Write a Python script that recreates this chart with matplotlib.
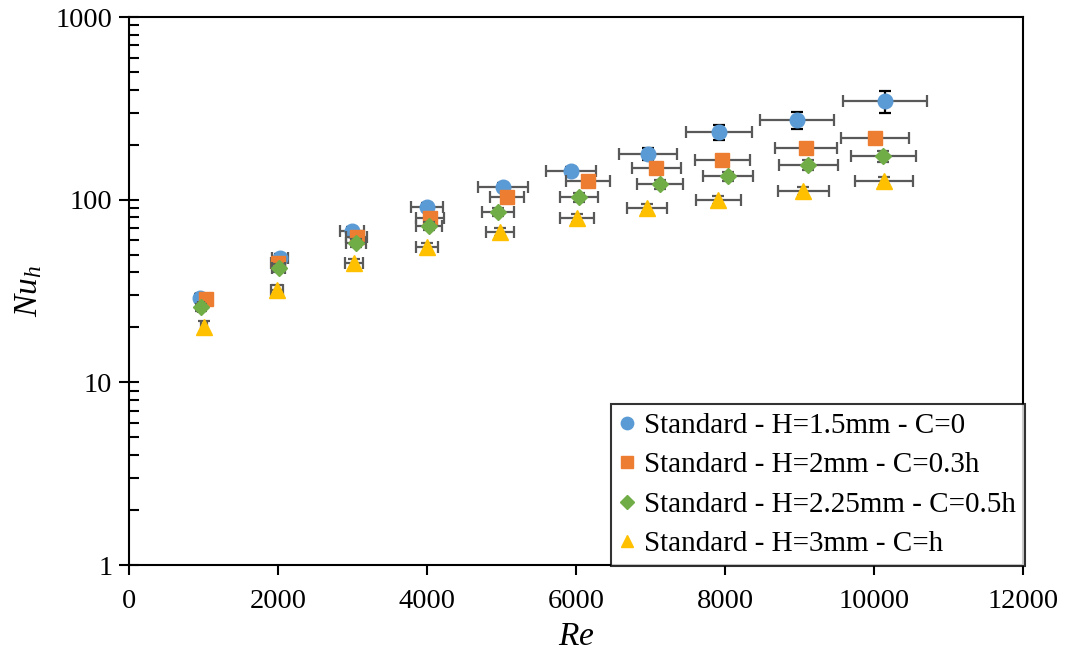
import numpy as np
import matplotlib.pyplot as plt
from matplotlib.ticker import LogLocator, NullFormatter, FixedLocator

plt.rcParams['font.family'] = ['Liberation Serif', 'DejaVu Serif']
plt.rcParams['mathtext.fontset'] = 'custom'
plt.rcParams['mathtext.it'] = 'Liberation Serif:italic'
plt.rcParams['mathtext.rm'] = 'Liberation Serif'

labels = ['Standard - H=1.5mm - C=0',
          'Standard - H=2mm - C=0.3h',
          'Standard - H=2.25mm - C=0.5h',
          'Standard - H=3mm - C=h']

# H=1.5mm, C=0
re_a = [953, 2027, 2993, 4000, 5020, 5933, 6967, 7920, 8967, 10148]
nu_a = [28.9, 47.9, 67.3, 91, 117, 143.5, 178, 234, 273, 346]
xe_a = [55, 110, 165, 215, 330, 330, 390, 440, 500, 564]
ye_a = [1.5, 2.5, 3.5, 4.5, 6, 8, 14, 22, 29, 47]

# H=2mm, C=0.3h
re_b = [1034, 2000, 3060, 4040, 5074, 6161, 7074, 7960, 9087, 10013]
nu_b = [28.5, 45, 62.4, 79.3, 103, 126.5, 149, 164.7, 191.6, 217]
xe_b = [48, 92, 141, 186, 233, 289, 329, 369, 417, 463]
ye_b = [1.2, 2, 3, 3.5, 4.5, 5.5, 6.5, 7, 8, 9]

# H=2.25mm, C=0.5h
re_c = [966, 2013, 3047, 4027, 4953, 6040, 7128, 8040, 9114, 10121]
nu_c = [25.8, 42.2, 57.9, 71.7, 85.5, 103, 121.7, 134.6, 154.6, 173.3]
xe_c = [42, 87, 131, 173, 213, 260, 307, 342, 396, 436]
ye_c = [1.2, 2, 3, 3.5, 4.5, 5.5, 7, 8, 10, 12]

# H=3mm, C=h
re_d = [1007, 1987, 3020, 4000, 4980, 6013, 6953, 7906, 9047, 10134]
nu_d = [20.2, 32.0, 45, 55, 66.5, 79.3, 90, 99.5, 111.5, 126.4]
xe_d = [38, 76, 115, 152, 189, 228, 264, 302, 342, 383]
ye_d = [1.4, 2, 2.5, 3, 3.5, 4, 4.5, 5, 5.5, 6.5]

fig = plt.figure(figsize=(10.65, 6.57), dpi=100)
ax = fig.add_axes([0.1211, 0.14, 0.8395, 0.8341])

series = [
    (re_a, nu_a, xe_a, ye_a, '#5B9BD5', 'o', 10.5, 'black'),
    (re_b, nu_b, xe_b, ye_b, '#ED7D31', 's', 10, '#595959'),
    (re_c, nu_c, xe_c, ye_c, '#70AD47', 'D', 8.5, '#595959'),
    (re_d, nu_d, xe_d, ye_d, '#FFC000', '^', 11, '#595959'),
]

handles = []
for i, (x, y, xe, ye, col, mk, ms, yecol) in enumerate(series):
    z = 2 + 2 * i
    ax.errorbar(x, y, xerr=xe, fmt='none', ecolor='#595959', elinewidth=1.6,
                capsize=4, capthick=1.6, zorder=z)
    ax.errorbar(x, y, yerr=ye, fmt='none', ecolor=yecol, elinewidth=1.6,
                capsize=4, capthick=1.6, zorder=z)
    h, = ax.plot(x, y, linestyle='none', marker=mk, markersize=ms,
                 color=col, markeredgecolor=col, zorder=z + 1, label=labels[i])
    handles.append(h)

ax.set_yscale('log')
ax.set_ylim(1, 1000)
ax.set_xlim(0, 12000)
ax.xaxis.set_major_locator(FixedLocator(np.arange(0, 12001, 2000)))
ax.yaxis.set_major_locator(FixedLocator([1, 10, 100, 1000]))
ax.yaxis.set_minor_locator(LogLocator(base=10, subs=np.arange(2, 10)))
ax.yaxis.set_minor_formatter(NullFormatter())
ax.set_yticklabels(['1', '10', '100', '1000'])

ax.tick_params(axis='x', which='major', direction='out', length=7, width=1.5,
               labelsize=20.5, pad=10, top=False)
ax.tick_params(axis='y', which='major', direction='inout', length=14, width=1.5,
               labelsize=20.5, pad=5, right=False)
ax.tick_params(axis='y', which='minor', direction='in', length=7, width=1.5,
               right=False)
for s in ax.spines.values():
    s.set_linewidth(1.5)
    s.set_color('black')

ax.set_xlabel('$Re$', fontsize=24, labelpad=6)
ax.set_ylabel('$Nu_h$', fontsize=24, labelpad=8)

leg = ax.legend(handles=handles, loc='lower right', fontsize=21,
                frameon=True, fancybox=False, edgecolor='black',
                handlelength=0.55, handletextpad=0.3, borderpad=0.3,
                labelspacing=0.45, markerscale=0.85, borderaxespad=0,
                bbox_to_anchor=(1.002, -0.002))
leg.get_frame().set_linewidth(1.5)
leg.set_zorder(20)

fig.savefig('out.png', dpi=100)
